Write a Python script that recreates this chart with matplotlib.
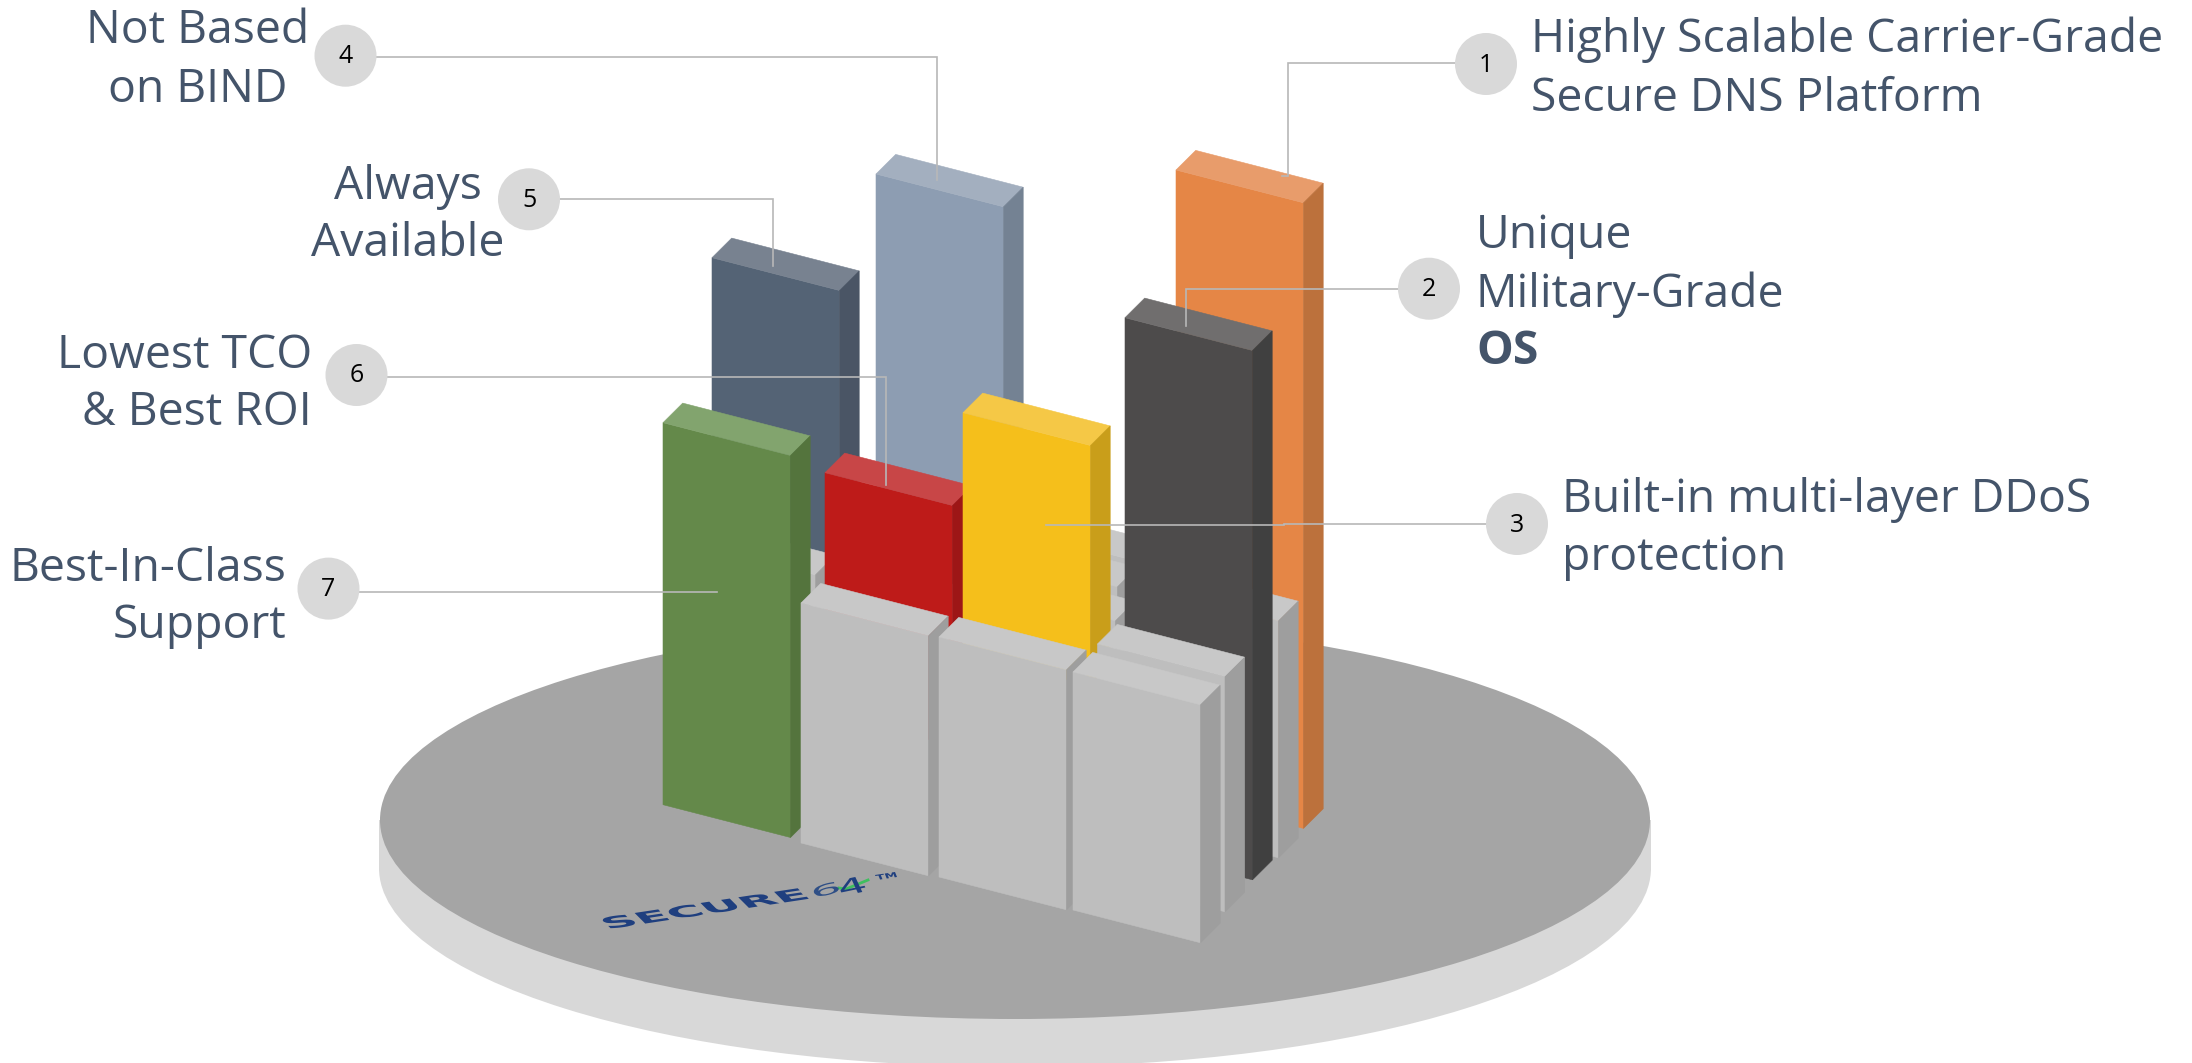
import matplotlib
matplotlib.use("Agg")
import matplotlib.pyplot as plt
import matplotlib.text as mtext
from matplotlib.patches import Polygon, Ellipse, Rectangle, Circle
from matplotlib.textpath import TextPath
from matplotlib.transforms import Affine2D
from matplotlib.colors import to_rgb
from matplotlib.font_manager import FontProperties

W, H = 2192, 1063
FONT = "Open Sans"
INK = "#44546A"
LEADER = "#B8B8B8"

# Columns, painted from the back of the platform to the front.
column_names = ["orange", "blue", "rear_a", "rear_b", "rear_c", "slate", "rear_d", "side_e",
                "red", "yellow", "charcoal", "green", "front_a", "front_b", "front_d", "front_c"]
column_left = [1176, 876, 1000, 990, 988, 712, 688, 1151,
               825, 963, 1125, 663, 801, 939, 1097.5, 1073]
column_top = [170, 174, 526, 554, 588, 257.7, 542, 588,
              472.7, 412.7, 317.7, 422.7, 603, 637, 644, 672]
column_height = [625.6, 390, 240, 240, 240, 268, 240, 237,
                 240, 240, 529.3, 382, 240, 240, 235, 238]

tone_grey = ("#BEBEBE", "#C8C8C8", "#9E9E9E")
column_tones = {
    "orange": ("#E58646", "#E89C6B", "#BC713C"),
    "blue": ("#8D9DB2", "#A3AFBF", "#748293"),
    "slate": ("#546375", "#788290", "#4A5565"),
    "red": ("#BE1B19", "#C84647", "#9D1616"),
    "yellow": ("#F5BF1B", "#F5C846", "#C99E1A"),
    "charcoal": ("#4D4B4B", "#706E6E", "#404040"),
    "green": ("#64894A", "#82A46E", "#54743D"),
}

# Screen vectors of a column's two floor edges.
run_x, run_y = 127.5, 32.8
deep_x, deep_y = 19.7, -19.6

# Platform
disc_x, disc_y, disc_w, disc_h, disc_rim = 1015, 820, 1270, 398, 48

# Callouts: number, circle centre, elbow route of the leader.
callout_numbers = ["1", "2", "3", "4", "5", "6", "7"]
callout_x = [1486, 1429, 1517, 345.5, 529, 356.5, 328.5]
callout_y = [64, 288.7, 524, 55.7, 199.3, 375, 588.6]
callout_radius = 31
leader_routes = [
    [(1455, 63.3), (1287.5, 63.3), (1287.5, 176), (1282, 176)],
    [(1398, 289.3), (1186, 289.3), (1186, 325.7)],
    [(1486, 523.7), (1284, 523.7), (1284, 525), (1045.6, 525)],
    [(376, 57.3), (937, 57.3), (937, 180)],
    [(560, 199.3), (773, 199.3), (773, 266)],
    [(387, 377), (886, 377), (886, 485)],
    [(359, 592), (716.5, 592)],
]

# Caption lines: text, x, baseline y, horizontal alignment, weight.
caption_lines = [
    ("Not Based", 197.7, 43.3, "center", "normal"),
    ("on BIND", 197.7, 101.7, "center", "normal"),
    ("Always", 408, 199, "center", "normal"),
    ("Available", 408, 255.7, "center", "normal"),
    ("Lowest TCO", 312, 368, "right", "normal"),
    ("& Best ROI", 312, 425, "right", "normal"),
    ("Best-In-Class", 286.6, 581, "right", "normal"),
    ("Support", 286.6, 638, "right", "normal"),
    ("Highly Scalable Carrier-Grade", 1531, 51.7, "left", "normal"),
    ("Secure DNS Platform", 1531, 110.7, "left", "normal"),
    ("Unique", 1476, 248, "left", "normal"),
    ("Military-Grade", 1476, 306.7, "left", "normal"),
    ("OS", 1476, 364, "left", "bold"),
    ("Built-in multi-layer DDoS", 1562, 512, "left", "normal"),
    ("protection", 1562, 570, "left", "normal"),
]
CAPTION_SIZE = 33.3

# Logo lettering lying on the platform: text, origin, baseline vector, up vector, weight, colour.
logo_parts = [
    ("SECURE", (611, 929), (198, -30), (-11, -11), "bold", "#1F3F7F"),
    ("6", (816, 898), (24, -6), (-4, -11), "normal", "#2F4F86"),
    ("4", (843, 896), (24, -5), (-7, -15), "normal", "#1F3F7F"),
    ("TM", (877, 880), (20, -3), (-2, -5), "bold", "#1F3F7F"),
]
logo_tick = [(839, 888), (846, 889), (868, 880)]


class PlaneText(mtext.Text):
    """Text laid flat on a receding surface, using an affine map of its outlines."""

    def __init__(self, origin, base, up, **kwargs):
        super().__init__(origin[0], origin[1], **kwargs)
        self._plane = (origin, base, up)

    def draw(self, renderer):
        origin, base, up = self._plane
        outline = TextPath((0, 0), self.get_text(), size=100, prop=self.get_fontproperties())
        box = outline.get_extents()
        ax_, bx_ = base[0] / box.width, up[0] / box.height
        ay_, by_ = base[1] / box.width, up[1] / box.height
        plane = Affine2D.from_values(ax_, ay_, bx_, by_, origin[0], origin[1])
        shift = Affine2D().translate(-box.x0, -box.y0)
        gc = renderer.new_gc()
        gc.set_antialiased(True)
        gc.set_linewidth(0)
        renderer.draw_path(gc, outline, shift + plane + self.axes.transData,
                           to_rgb(self.get_color()))
        gc.restore()


def draw_column(ax, left, top, height, tones):
    front, lid, side = tones
    tl = (left, top)
    tr = (left + run_x, top + run_y)
    br = (tr[0], tr[1] + height)
    bl = (left, top + height)
    rt = (tr[0] + deep_x, tr[1] + deep_y)
    rb = (rt[0], rt[1] + height)
    bk = (left + deep_x, top + deep_y)
    for pts, colour in (((tl, tr, br, bl), front), ((tl, bk, rt, tr), lid), ((tr, rt, rb, br), side)):
        ax.add_patch(Polygon(pts, closed=True, fc=colour, ec=colour, lw=0.4))


fig = plt.figure(figsize=(W / 100, H / 100), dpi=100, facecolor="white")
ax = fig.add_axes([0, 0, 1, 1])
ax.set_xlim(0, W)
ax.set_ylim(H, 0)
ax.axis("off")

# Platform rim, then its top surface.
ax.add_patch(Ellipse((disc_x, disc_y + disc_rim), disc_w + 2, disc_h, fc="#D8D8D8", ec="none"))
ax.add_patch(Rectangle((disc_x - disc_w / 2 - 1, disc_y), disc_w + 2, disc_rim, fc="#D8D8D8", ec="none"))
ax.add_patch(Ellipse((disc_x, disc_y), disc_w, disc_h, fc="#A5A5A5", ec="none"))

for part, origin, base, up, weight, colour in logo_parts:
    ax.add_artist(PlaneText(origin, base, up, text=part, color=colour,
                            fontproperties=FontProperties(family="DejaVu Sans", weight=weight)))
ax.plot(*zip(*logo_tick), color="#3FBF5F", lw=2, solid_joinstyle="miter")

for name, left, top, height in zip(column_names, column_left, column_top, column_height):
    draw_column(ax, left, top, height, column_tones.get(name, tone_grey))

for route in leader_routes:
    ax.plot(*zip(*route), color=LEADER, lw=1.2, solid_joinstyle="miter", zorder=5)

for number, cx, cy in zip(callout_numbers, callout_x, callout_y):
    ax.add_patch(Circle((cx, cy), callout_radius, fc="#D9D9D9", ec="none", zorder=6))
    ax.text(cx, cy + 1, number, ha="center", va="center", fontsize=18, color="black",
            family=FONT, zorder=7)

for text, x, y, align, weight in caption_lines:
    ax.text(x, y, text, ha=align, va="baseline", fontsize=CAPTION_SIZE, color=INK,
            family=FONT, weight=weight, zorder=7)

fig.savefig("out.png", dpi=100)
